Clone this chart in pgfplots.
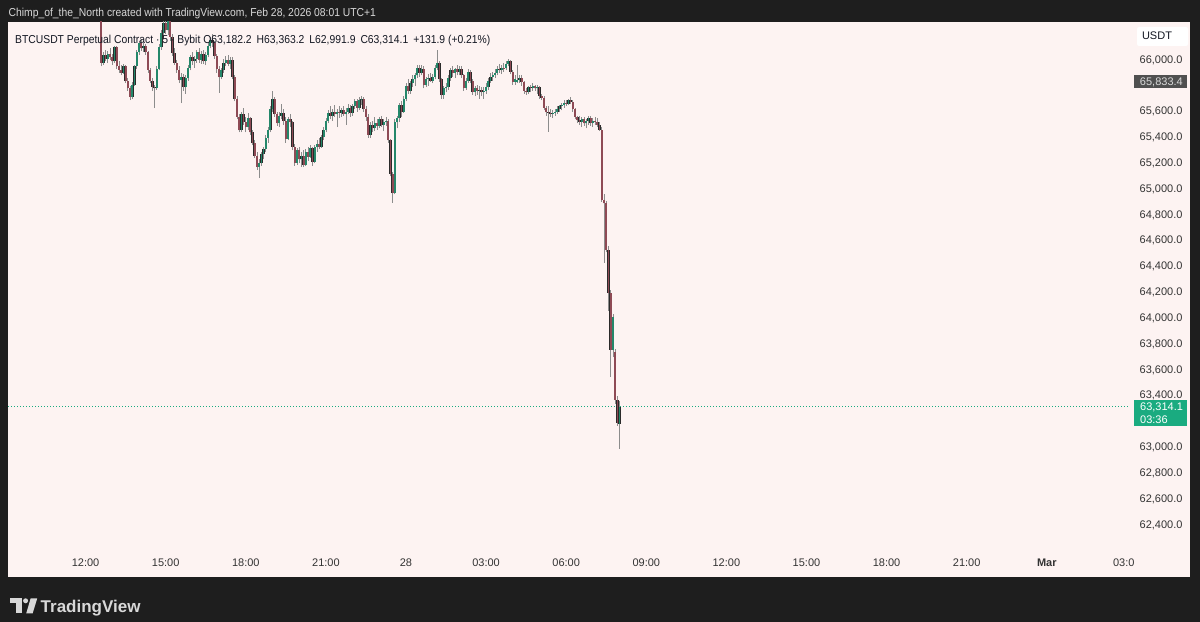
\documentclass[border=0pt]{standalone}
\usepackage{fontspec}
\setmainfont{Liberation Sans}
\newfontfamily\narrowfont[FakeStretch=0.9]{Liberation Sans}
\usepackage{pgfplots}
\usepackage{pgfplotstable}
\pgfplotsset{compat=1.18}
\definecolor{bgdark}{HTML}{1E1E1E}
\definecolor{panel}{HTML}{FDF3F2}
\definecolor{upc}{HTML}{24876A}
\definecolor{dnc}{HTML}{8E4A55}
\definecolor{edge}{HTML}{2A2A2A}
\definecolor{wick}{HTML}{8C8C8C}
\definecolor{txt}{HTML}{131722}
\definecolor{axtxt}{HTML}{333333}
\definecolor{lastg}{HTML}{1AAB80}
\definecolor{boxg}{HTML}{505050}
\definecolor{toptxt}{HTML}{D8D8D8}

\pgfplotstableread{
i o h l c
144 66420 66480 66380 66440
145 66440 66500 66400 66410
146 66410 66450 66350 66380
147 66380 66420 66330 66400
148 66400 66430 66340 66360
149 66360 66400 66310 66350
150 66350 66380 66300 66330
151 66330 66340 65950 65977
152 65977 66060 65960 66040
153 66040 66080 65990 66010
154 66010 66070 65980 66050
155 66050 66090 66000 66020
156 66020 66050 65960 65990
157 65990 66110 65980 66100
158 66100 66110 65930 65950
159 65950 65990 65900 65925
160 65925 65960 65880 65900
161 65900 65970 65890 65950
162 65950 65960 65820 65840
163 65840 65860 65760 65780
164 65780 65800 65690 65714
165 65714 65830 65700 65810
166 65810 65960 65800 65950
167 65950 66080 65930 66060
168 66060 66150 66040 66132
169 66132 66160 66070 66090
170 66090 66130 66060 66110
171 66110 66120 66040 66060
172 66060 66070 65900 65923
173 65923 65940 65820 65840
174 65840 65860 65760 65791
175 65791 65810 65628 65780
176 65780 65950 65770 65930
177 65930 66120 65920 66100
178 66100 66230 66080 66209
179 66209 66330 66180 66290
180 66290 66360 66200 66230
181 66230 66350 66190 66310
182 66310 66340 66150 66180
183 66180 66200 66030 66054
184 66054 66090 65960 65980
185 65980 66000 65900 65920
186 65920 65950 65820 65845
187 65845 65900 65667 65870
188 65870 65890 65760 65790
189 65790 65880 65740 65860
190 65860 65960 65840 65940
191 65940 66040 65920 66023
192 66023 66060 65960 65990
193 65990 66030 65940 66010
194 66010 66080 65980 66060
195 66060 66090 65980 66000
196 66000 66070 65970 66050
197 66050 66080 65970 65990
198 65990 66060 65960 66040
199 66040 66130 66020 66110
200 66110 66180 66090 66155
201 66155 66200 66100 66130
202 66130 66150 66010 66030
203 66030 66050 65900 65930
204 65930 65950 65745 65868
205 65868 65940 65850 65920
206 65920 66010 65900 65980
207 65980 66030 65950 66000
208 66000 66040 65950 65970
209 65970 66020 65930 66000
210 66000 66020 65850 65870
211 65870 65880 65680 65700
212 65700 65720 65540 65560
213 65560 65580 65440 65458
214 65458 65600 65440 65580
215 65580 65630 65500 65520
216 65520 65560 65440 65480
217 65480 65590 65460 65550
218 65550 65560 65420 65440
219 65440 65460 65340 65357
220 65357 65380 65240 65260
221 65260 65290 65150 65172
222 65172 65230 65086 65200
223 65200 65290 65180 65270
224 65270 65330 65230 65310
225 65310 65420 65290 65400
226 65400 65480 65360 65458
227 65458 65640 65440 65620
228 65620 65760 65600 65700
229 65700 65710 65560 65580
230 65580 65600 65490 65512
231 65512 65600 65480 65570
232 65570 65660 65540 65590
233 65590 65620 65500 65530
234 65530 65560 65360 65390
235 65390 65560 65380 65540
236 65540 65580 65480 65520
237 65520 65530 65300 65330
238 65330 65350 65180 65203
239 65203 65320 65190 65300
240 65300 65330 65200 65230
241 65230 65290 65170 65260
242 65260 65300 65170 65190
243 65190 65310 65180 65290
244 65290 65330 65220 65250
245 65250 65340 65240 65320
246 65320 65330 65180 65210
247 65210 65340 65200 65326
248 65326 65380 65290 65350
249 65350 65400 65310 65330
250 65330 65420 65320 65404
251 65404 65480 65380 65460
252 65460 65550 65440 65530
253 65530 65610 65510 65590
254 65590 65640 65540 65570
255 65570 65620 65530 65600
256 65600 65650 65560 65580
257 65580 65620 65480 65600
258 65600 65640 65550 65590
259 65590 65630 65560 65610
260 65610 65640 65570 65580
261 65580 65630 65500 65600
262 65600 65660 65580 65630
263 65630 65650 65560 65590
264 65590 65660 65570 65640
265 65640 65700 65620 65680
266 65680 65700 65600 65630
267 65630 65710 65610 65690
268 65690 65720 65650 65700
269 65700 65710 65600 65620
270 65620 65640 65530 65560
271 65560 65580 65400 65420
272 65420 65520 65400 65500
273 65500 65530 65440 65470
274 65470 65560 65450 65512
275 65512 65540 65460 65490
276 65490 65560 65470 65540
277 65540 65570 65480 65500
278 65500 65540 65450 65520
279 65520 65560 65490 65530
280 65530 65540 65360 65380
281 65380 65390 65100 65120
282 65120 65130 64893 64970
283 64970 65540 64960 65520
284 65520 65570 65470 65550
285 65550 65670 65520 65650
286 65650 65680 65560 65600
287 65600 65720 65590 65700
288 65700 65820 65680 65800
289 65800 65850 65740 65760
290 65760 65840 65740 65820
291 65820 65880 65790 65850
292 65850 65900 65800 65880
293 65880 65960 65860 65940
294 65940 65960 65870 65900
295 65900 65960 65880 65930
296 65930 65950 65780 65806
297 65806 65870 65790 65850
298 65850 65890 65800 65861
299 65861 65900 65830 65840
300 65840 65890 65820 65870
301 65870 65960 65850 65940
302 65940 66077 65920 65977
303 65977 65990 65830 65850
304 65850 65860 65700 65729
305 65729 65800 65700 65780
306 65780 65820 65750 65791
307 65791 65880 65770 65860
308 65860 65940 65840 65920
309 65920 65950 65870 65900
310 65900 65940 65860 65930
311 65930 65960 65880 65910
312 65910 65950 65880 65930
313 65930 65950 65860 65880
314 65880 65890 65760 65783
315 65783 65860 65770 65840
316 65840 65930 65820 65907
317 65907 65920 65820 65840
318 65840 65850 65730 65752
319 65752 65800 65720 65780
320 65780 65810 65730 65760
321 65760 65800 65700 65770
322 65770 65790 65720 65750
323 65750 65790 65700 65760
324 65760 65820 65740 65790
325 65790 65860 65770 65840
326 65840 65900 65820 65870
327 65870 65910 65840 65884
328 65884 65930 65860 65900
329 65900 65950 65880 65930
330 65930 65970 65900 65920
331 65920 65960 65890 65940
332 65940 65980 65910 65938
333 65938 65990 65920 65970
334 65970 66010 65950 65990
335 65990 66000 65890 65910
336 65910 65920 65810 65830
337 65830 65880 65810 65850
338 65830 65960 65820 65845
339 65845 65880 65820 65860
340 65860 65880 65800 65830
341 65830 65840 65740 65760
342 65760 65780 65730 65752
343 65752 65800 65740 65790
344 65790 65810 65750 65783
345 65783 65820 65760 65800
346 65800 65810 65760 65780
347 65780 65810 65740 65790
348 65790 65800 65700 65720
349 65720 65740 65690 65706
350 65706 65720 65610 65630
351 65630 65640 65570 65597
352 65597 65640 65443 65590
353 65590 65620 65560 65580
354 65580 65610 65550 65590
355 65590 65620 65570 65600
356 65600 65640 65580 65620
357 65620 65650 65600 65640
358 65640 65670 65610 65652
359 65652 65690 65630 65670
360 65670 65690 65640 65660
361 65660 65700 65650 65690
362 65690 65710 65660 65675
363 65675 65690 65600 65620
364 65620 65630 65540 65560
365 65560 65570 65510 65535
366 65535 65570 65500 65520
367 65520 65560 65480 65540
368 65540 65560 65490 65510
369 65510 65540 65470 65525
370 65525 65570 65500 65550
371 65550 65570 65490 65510
372 65510 65550 65480 65530
373 65530 65560 65500 65520
374 65520 65550 65480 65500
375 65500 65520 65450 65460
376 65460 65480 64900 64920
377 64920 64960 64430 64890
378 64890 64910 64510 64530
379 64530 64560 64060 64196
380 64196 64220 63546 63755
381 63755 64030 63700 64010
382 63740 63760 63340 63368
383 63368 63400 63170 63190
384 63182.2 63363.2 62991.9 63314.1
}\candles

\begin{document}
\begin{tikzpicture}
\fill[bgdark] (0,0) rectangle (1200bp,622bp);
\fill[panel] (8bp,45bp) rectangle (1190bp,600bp);
\begin{axis}[
  at={(8bp,74bp)}, anchor=south west,
  scale only axis, width=1122bp, height=526bp,
  xmin=109.12, xmax=613.4, ymin=62222.1, ymax=66294.2,
  axis line style={draw=none}, tick style={draw=none},
  major tick length=0pt,
  xtick={144,180,216,252,288,324,360,396,432,468,504,540,576,612},
  xticklabels={12:00,15:00,18:00,21:00,28,03:00,06:00,09:00,12:00,15:00,18:00,21:00,\textbf{Mar},03:00},
  ytick={62400,62600,62800,63000,63400,63600,63800,64000,64200,64400,64600,64800,65000,65200,65400,65600,66000},
  scaled y ticks=false,
  yticklabel pos=right,
  /pgf/number format/fixed,
  /pgf/number format/fixed zerofill,
  /pgf/number format/precision=1,
  /pgf/number format/1000 sep={,},
  /pgf/number format/assume math mode=true,
  ticklabel style={font=\fontsize{11bp}{13bp}\selectfont, text=axtxt},
  yticklabel style={anchor=east, xshift=56bp},
  xticklabel style={anchor=base, yshift=-19bp},
  clip=true,
]
\addplot[lastg, dash pattern=on 1.2bp off 1.8bp, line width=1bp, forget plot] coordinates {(109.12,63314.1) (613.4,63314.1)};
% wicks
\addplot[draw=none, no markers, forget plot,
  error bars/y dir=plus, error bars/y explicit, error bars/error mark=none,
  error bars/error bar style={draw=wick, line width=0.8bp, line cap=butt}]
  table[x=i, y=l, y error expr=\thisrow{h}-\thisrow{l}] {\candles};
% up bodies
\addplot[draw=none, no markers, forget plot,
  restrict expr to domain={\thisrow{c}-\thisrow{o}}{0:100000},
  error bars/y dir=plus, error bars/y explicit, error bars/error mark=none,
  error bars/error bar style={draw=edge, line width=2.5bp, line cap=butt}]
  table[x=i, y=o, y error expr=\thisrow{c}-\thisrow{o}] {\candles};
\addplot[draw=none, no markers, forget plot,
  restrict expr to domain={\thisrow{c}-\thisrow{o}}{0:100000},
  error bars/y dir=plus, error bars/y explicit, error bars/error mark=none,
  error bars/error bar style={draw=upc, line width=1.7bp, line cap=butt}]
  table[x=i, y=o, y error expr=\thisrow{c}-\thisrow{o}] {\candles};
% down bodies
\addplot[draw=none, no markers, forget plot,
  restrict expr to domain={\thisrow{o}-\thisrow{c}}{0.0001:100000},
  error bars/y dir=plus, error bars/y explicit, error bars/error mark=none,
  error bars/error bar style={draw=edge, line width=2.5bp, line cap=butt}]
  table[x=i, y=c, y error expr=\thisrow{o}-\thisrow{c}] {\candles};
\addplot[draw=none, no markers, forget plot,
  restrict expr to domain={\thisrow{o}-\thisrow{c}}{0.0001:100000},
  error bars/y dir=plus, error bars/y explicit, error bars/error mark=none,
  error bars/error bar style={draw=dnc, line width=1.7bp, line cap=butt}]
  table[x=i, y=c, y error expr=\thisrow{o}-\thisrow{c}] {\candles};
\end{axis}
\begin{scope}[x=1bp,y=-1bp,shift={(0bp,622bp)}]
  % cover clipped time label under price scale
  \fill[panel] (1134,550) rectangle (1189,576);
  % top credit line
  \node[anchor=base west, inner sep=0pt, text=toptxt, font=\narrowfont\fontsize{11.5bp}{13bp}\selectfont] at (8.5,17) {Chimp\_of\_the\_North created with TradingView.com, Feb 28, 2026 08:01 UTC+1};
  % header legend
  \node[anchor=base west, inner sep=0pt, text=txt, font=\narrowfont\fontsize{11.5bp}{13bp}\selectfont] at (15,44) {BTCUSDT Perpetual Contract · 5 · Bybit\hspace{3bp}O63,182.2\hspace{5bp}H63,363.2\hspace{5bp}L62,991.9\hspace{5bp}C63,314.1\hspace{5bp}+131.9 (+0.21\%)};
  % USDT box
  \fill[white, rounded corners=2bp] (1137,27) rectangle (1188,46);
  \node[anchor=base, inner sep=0pt, text=txt, font=\fontsize{11bp}{13bp}\selectfont] at (1157,40) {USDT};
  % 65,833.4 label
  \fill[boxg] (1134,75) rectangle (1187,88.5);
  \node[anchor=base east, inner sep=0pt, text=white!85!black, font=\fontsize{11bp}{13bp}\selectfont] at (1183,85.5) {65,833.4};
  % last price label
  \fill[lastg] (1134,400) rectangle (1187,426.5);
  \node[anchor=base west, inner sep=0pt, text=white, font=\fontsize{11bp}{13bp}\selectfont] at (1140,411) {63,314.1};
  \node[anchor=base west, inner sep=0pt, text=white, font=\fontsize{11bp}{13bp}\selectfont] at (1140,423.5) {03:36};
  % TradingView logo
  \fill[toptxt] (9.6,598.5) rectangle (22.2,603.5);
  \fill[toptxt] (15.6,598.5) rectangle (22.2,613.5);
  \fill[toptxt] (25.6,600.8) circle (2.5);
  \fill[toptxt] (26.2,613.5) -- (32.6,613.5) -- (37.2,598.5) -- (30.6,598.5) -- cycle;
  \node[anchor=base west, inner sep=0pt, text=toptxt, font=\fontsize{17bp}{20bp}\selectfont\bfseries] at (40.5,612.8) {TradingView};
\end{scope}
\end{tikzpicture}
\end{document}
